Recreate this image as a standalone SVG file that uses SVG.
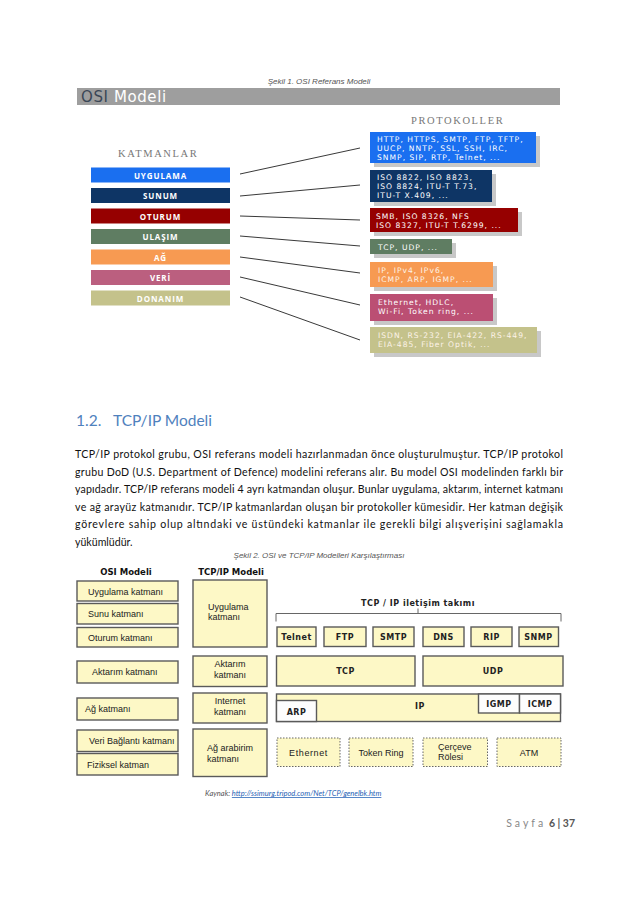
<svg xmlns="http://www.w3.org/2000/svg" width="638" height="903" viewBox="0 0 638 903">
<style>
.cap{font-family:"Liberation Sans",Arial,sans-serif;font-style:italic;font-size:8px;fill:#555;}
.lay{font-family:"Open Sans","DejaVu Sans",sans-serif;font-weight:bold;font-size:8px;fill:#fff;text-anchor:middle;letter-spacing:0.9px;}
.pt{font-family:"DejaVu Sans",Verdana,sans-serif;font-size:7.6px;fill:#fff;letter-spacing:1px;}
.ptl{font-family:"DejaVu Sans",Verdana,sans-serif;font-size:7.6px;fill:#fdf3e8;letter-spacing:1px;}
.ser{font-family:"Liberation Serif","Times New Roman",serif;font-size:10.5px;fill:#777;letter-spacing:1.6px;}
.ln{stroke:#222;stroke-width:0.9;fill:none;}
.sh{fill:#c8c8c8;}
.body{font-family:Lato,"Open Sans",sans-serif;font-size:10.6px;fill:#111;}
.ybox{fill:#fdf8c6;stroke:#5a5a5a;stroke-width:1.4;}
.wbox{fill:#fdfdfd;stroke:#5a5a5a;stroke-width:1.4;}
.dbox{fill:#fdf8c6;stroke:#666;stroke-width:1;stroke-dasharray:1.5 1.5;}
.t9{font-family:"Liberation Sans",Arial,sans-serif;font-size:9px;fill:#222;}
.b8{font-family:"DejaVu Sans",Verdana,sans-serif;font-weight:bold;font-size:8px;fill:#222;text-anchor:middle;letter-spacing:0.5px;}
.hd{font-family:"DejaVu Sans",Verdana,sans-serif;font-weight:bold;font-size:8.5px;fill:#111;text-anchor:middle;}
</style>

<!-- Figure 1 -->
<text class="cap" x="319" y="84" text-anchor="middle">Şekil 1. OSI Referans Modeli</text>
<g id="osi-header">
<rect x="77" y="88" width="483" height="17" fill="#9e9e9e"/>
<text x="81" y="102" font-family="DejaVu Sans,Verdana,sans-serif" font-size="15px" letter-spacing="0.6px" fill="#3a4656">OSI <tspan fill="#ffffff">Modeli</tspan></text>
</g>
<text class="ser" x="411" y="124">PROTOKOLLER</text>
<text class="ser" x="118" y="157" letter-spacing="2.5px">KATMANLAR</text>

<g id="layer-uygulama"><rect x="91" y="167.5" width="139" height="15" fill="#1a6ff0"/><text class="lay" x="160.5" y="178.5">UYGULAMA</text></g>
<g id="layer-sunum"><rect x="91" y="188" width="139" height="15" fill="#0e3565"/><text class="lay" x="160.5" y="199">SUNUM</text></g>
<g id="layer-oturum"><rect x="91" y="208.5" width="139" height="15" fill="#960000"/><text class="lay" x="160.5" y="219.5">OTURUM</text></g>
<g id="layer-ulasim"><rect x="91" y="229" width="139" height="15" fill="#5f7d62"/><text class="lay" x="160.5" y="240">ULAŞIM</text></g>
<g id="layer-ag"><rect x="91" y="249.5" width="139" height="15" fill="#f79a52"/><text class="lay" x="160.5" y="260.5">AĞ</text></g>
<g id="layer-veri"><rect x="91" y="270" width="139" height="15" fill="#bb5f7f"/><text class="lay" x="160.5" y="281">VERİ</text></g>
<g id="layer-donanim"><rect x="91" y="290.5" width="139" height="15" fill="#c4c28b"/><text class="lay" x="160.5" y="301.5">DONANIM</text></g>

<g id="proto-1"><rect class="sh" x="374" y="136" width="166" height="31"/><rect x="370" y="132" width="166" height="31" fill="#1a6ff0"/>
<text class="pt" x="377" y="141.5">HTTP, HTTPS, SMTP, FTP, TFTP,</text><text class="pt" x="377" y="150.5">UUCP, NNTP, SSL, SSH, IRC,</text><text class="pt" x="377" y="159.5">SNMP, SIP, RTP, Telnet, ...</text></g>
<g id="proto-2"><rect class="sh" x="374" y="174" width="122" height="32"/><rect x="370" y="170" width="122" height="32" fill="#0e3565"/>
<text class="pt" x="377" y="180">ISO 8822, ISO 8823,</text><text class="pt" x="377" y="189">ISO 8824, ITU-T T.73,</text><text class="pt" x="377" y="198">ITU-T X.409, ...</text></g>
<g id="proto-3"><rect class="sh" x="374" y="212" width="148" height="24"/><rect x="370" y="208" width="148" height="24" fill="#960000"/>
<text class="pt" x="376" y="218.5">SMB, ISO 8326, NFS</text><text class="pt" x="376" y="227.5">ISO 8327, ITU-T T.6299, ...</text></g>
<g id="proto-4"><rect class="sh" x="374" y="243" width="82" height="15"/><rect x="370" y="239" width="82" height="15" fill="#5f7d62"/>
<text class="pt" x="378" y="249.5">TCP, UDP, ...</text></g>
<g id="proto-5"><rect class="sh" x="374" y="266" width="123" height="25"/><rect x="370" y="262" width="123" height="25" fill="#f79a52"/>
<text class="ptl" x="378" y="272.5">IP, IPv4, IPv6,</text><text class="ptl" x="378" y="281.5">ICMP, ARP, IGMP, ...</text></g>
<g id="proto-6"><rect class="sh" x="374" y="298" width="123" height="27"/><rect x="370" y="294" width="123" height="27" fill="#bb4f73"/>
<text class="pt" x="378" y="305">Ethernet, HDLC,</text><text class="pt" x="378" y="314">Wi-Fi, Token ring, ...</text></g>
<g id="proto-7"><rect class="sh" x="374" y="331" width="167" height="26"/><rect x="370" y="327" width="167" height="26" fill="#c4c28b"/>
<text class="ptl" x="378" y="338">ISDN, RS-232, EIA-422, RS-449,</text><text class="ptl" x="378" y="347">EIA-485, Fiber Optik, ...</text></g>

<g id="connectors-1">
<line class="ln" x1="240" y1="174" x2="360" y2="148"/>
<line class="ln" x1="240" y1="196" x2="360" y2="185"/>
<line class="ln" x1="240" y1="216" x2="360" y2="220"/>
<line class="ln" x1="240" y1="236" x2="360" y2="246"/>
<line class="ln" x1="240" y1="257" x2="360" y2="273"/>
<line class="ln" x1="240" y1="277" x2="360" y2="305"/>
<line class="ln" x1="240" y1="297" x2="360" y2="340"/>
</g>

<!-- Section text -->
<text x="76" y="426" font-family="Lato,'Open Sans',sans-serif" font-size="15.5px" fill="#4f81bd">1.2.<tspan x="113">TCP/IP Modeli</tspan></text>
<text class="body" x="75" y="458" textLength="488" lengthAdjust="spacing">TCP/IP protokol grubu, OSI referans modeli hazırlanmadan önce oluşturulmuştur. TCP/IP protokol</text>
<text class="body" x="75" y="475.5" textLength="488" lengthAdjust="spacing">grubu DoD (U.S. Department of Defence) modelini referans alır. Bu model OSI modelinden farklı bir</text>
<text class="body" x="75" y="493" textLength="488" lengthAdjust="spacing">yapıdadır. TCP/IP referans modeli 4 ayrı katmandan oluşur. Bunlar uygulama, aktarım, internet katmanı</text>
<text class="body" x="75" y="510.5" textLength="488" lengthAdjust="spacing">ve ağ arayüz katmanıdır. TCP/IP katmanlardan oluşan bir protokoller kümesidir. Her katman değişik</text>
<text class="body" x="75" y="528" textLength="488" lengthAdjust="spacing">görevlere sahip olup altındaki ve üstündeki katmanlar ile gerekli bilgi alışverişini sağlamakla</text>
<text class="body" x="75" y="545.5">yükümlüdür.</text>

<!-- Figure 2 -->
<text class="cap" x="319" y="558" text-anchor="middle" font-size="7.2px">Şekil 2. OSI ve TCP/IP Modelleri Karşılaştırması</text>
<text class="hd" x="126" y="575">OSI Modeli</text>
<text class="hd" x="231" y="575">TCP/IP Modeli</text>

<g id="osi-uygulama"><rect class="ybox" x="77" y="581" width="101" height="20"/><text class="t9" x="88" y="594.5">Uygulama katmanı</text></g>
<g id="osi-sunu"><rect class="ybox" x="77" y="603.5" width="101" height="20.5"/><text class="t9" x="88" y="617">Sunu katmanı</text></g>
<g id="osi-oturum"><rect class="ybox" x="77" y="627.5" width="101" height="19.5"/><text class="t9" x="88" y="641">Oturum katmanı</text></g>
<g id="osi-aktarim"><rect class="ybox" x="77" y="661" width="101" height="22"/><text class="t9" x="92" y="675">Aktarım katmanı</text></g>
<g id="osi-ag"><rect class="ybox" x="77" y="698" width="101" height="22"/><text class="t9" x="85" y="712">Ağ katmanı</text></g>
<g id="osi-veri"><rect class="ybox" x="77" y="730" width="101" height="21.5"/><text class="t9" x="89" y="744">Veri Bağlantı katmanı</text></g>
<g id="osi-fiziksel"><rect class="ybox" x="77" y="753.5" width="101" height="21.5"/><text class="t9" x="87" y="767.5">Fiziksel katman</text></g>

<g id="tcp-uygulama"><rect class="ybox" x="193" y="580" width="74" height="67"/><text class="t9" x="208" y="610">Uygulama</text><text class="t9" x="208" y="620">katmanı</text></g>
<g id="tcp-aktarim"><rect class="ybox" x="193" y="656" width="74" height="30.5"/><text class="t9" x="230" y="666.5" text-anchor="middle">Aktarım</text><text class="t9" x="230" y="677.5" text-anchor="middle">katmanı</text></g>
<g id="tcp-internet"><rect class="ybox" x="193" y="693" width="74" height="30"/><text class="t9" x="230" y="703.5" text-anchor="middle">Internet</text><text class="t9" x="230" y="714.5" text-anchor="middle">katmanı</text></g>
<g id="tcp-ag"><rect class="ybox" x="193" y="729" width="74" height="47.5"/><text class="t9" x="207" y="751">Ağ arabirim</text><text class="t9" x="207" y="761.5">katmanı</text></g>

<g id="suite-label">
<text class="b8" x="418" y="606" letter-spacing="0.2px">TCP / IP iletişim takımı</text>
</g>
<g id="connectors-2">
<polyline fill="none" stroke="#666" stroke-width="1" points="276,621.5 276,613.5 561,613.5 561,621.5"/>
<line stroke="#666" stroke-width="1" x1="418" y1="608.5" x2="418" y2="613.5"/>
</g>

<g id="p-telnet"><rect class="ybox" x="277" y="627" width="39" height="19.5"/><text class="b8" x="296.5" y="640">Telnet</text></g>
<g id="p-ftp"><rect class="ybox" x="324" y="627" width="42" height="19.5"/><text class="b8" x="345" y="640">FTP</text></g>
<g id="p-smtp"><rect class="ybox" x="373" y="627" width="41" height="19.5"/><text class="b8" x="393.5" y="640">SMTP</text></g>
<g id="p-dns"><rect class="ybox" x="423" y="627" width="41" height="19.5"/><text class="b8" x="443.5" y="640">DNS</text></g>
<g id="p-rip"><rect class="ybox" x="471" y="627" width="41" height="19.5"/><text class="b8" x="491.5" y="640">RIP</text></g>
<g id="p-snmp"><rect class="ybox" x="519" y="627" width="39.5" height="19.5"/><text class="b8" x="538.5" y="640">SNMP</text></g>

<g id="p-tcp"><rect class="ybox" x="276.5" y="656" width="138.5" height="30"/><text class="b8" x="345.5" y="674">TCP</text></g>
<g id="p-udp"><rect class="ybox" x="423" y="656" width="140" height="30"/><text class="b8" x="493" y="674">UDP</text></g>

<g id="p-ip"><rect class="ybox" x="276.5" y="694" width="284" height="27.5"/><text class="b8" x="420" y="708.5">IP</text></g>
<g id="p-arp"><rect class="wbox" x="276.5" y="700.5" width="40" height="21"/><text class="b8" x="296.5" y="714.5">ARP</text></g>
<g id="p-igmp"><rect class="wbox" x="478.5" y="694" width="41" height="19"/><text class="b8" x="499" y="706.5">IGMP</text></g>
<g id="p-icmp"><rect class="wbox" x="519.5" y="694" width="41" height="19"/><text class="b8" x="540" y="706.5">ICMP</text></g>

<g id="p-ethernet"><rect class="dbox" x="277" y="738" width="63" height="28.5"/><text class="t9" x="308.5" y="755.5" text-anchor="middle" letter-spacing="0.6px">Ethernet</text></g>
<g id="p-token"><rect class="dbox" x="349" y="738" width="64" height="28.5"/><text class="t9" x="381" y="755.5" text-anchor="middle">Token Ring</text></g>
<g id="p-cerceve"><rect class="dbox" x="423" y="738" width="64.5" height="28.5"/><text class="t9" x="438" y="750">Çerçeve</text><text class="t9" x="438" y="760">Rölesi</text></g>
<g id="p-atm"><rect class="dbox" x="497" y="738" width="64" height="28.5"/><text class="t9" x="529" y="755.5" text-anchor="middle">ATM</text></g>

<text x="205" y="796" font-family="Lato,'Open Sans',sans-serif" font-style="italic" font-size="7.5px" fill="#555">Kaynak: <tspan fill="#1f5fb5" text-decoration="underline">http://ssimurg.tripod.com/Net/TCP/genelbk.htm</tspan></text>

<text x="575" y="827" text-anchor="end" font-family="Lato,'Open Sans',sans-serif" font-size="10.5px" fill="#888"><tspan letter-spacing="3px">Sayfa</tspan> <tspan fill="#555" font-weight="bold">6 | 37</tspan></text>
</svg>
